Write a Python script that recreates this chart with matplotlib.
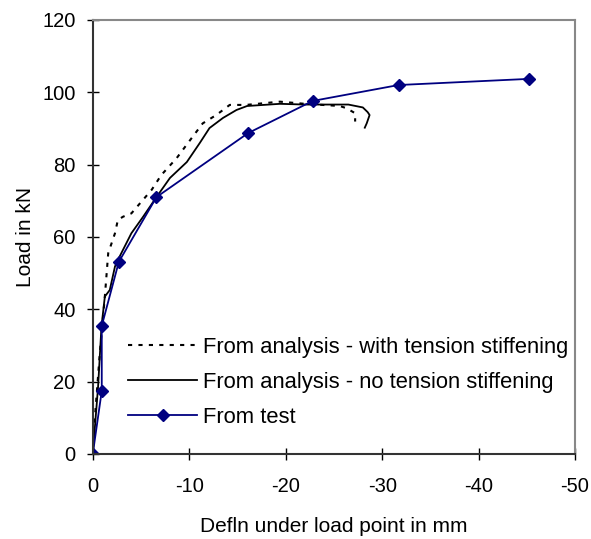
import matplotlib
matplotlib.use("Agg")
from matplotlib import pyplot as plt

# analysis - with tension stiffening (dotted)
with_ts_x = [0, -0.2, -0.73, -1.25, -1.6, -2.3, -2.6, -3.15, -4.0, -4.9, -6.1, -7.1, -8.7,
             -10.1, -11.4, -12.8, -14.2, -15.9, -19.4, -22.0, -25.6, -26.3, -27.2, -27.2]
with_ts_y = [0, 9.4, 27.9, 43.5, 55.5, 61.0, 64.7, 65.6, 66.5, 69.3, 73.0, 77.1, 81.8,
             86.8, 91.4, 93.7, 96.5, 96.5, 97.4, 96.8, 96.2, 95.6, 94.2, 91.9]

# analysis - no tension stiffening (solid)
no_ts_x = [0, -0.55, -0.9, -1.25, -1.76, -2.3, -2.6, -4.0, -5.2, -6.6, -8.0, -9.75, -11.1,
           -12.1, -13.5, -14.9, -16.0, -19.4, -22.0, -26.5, -28.0, -28.5, -28.7, -28.4, -28.2]
no_ts_y = [0, 18.6, 35.2, 43.5, 45.3, 51.8, 53.6, 61.0, 65.5, 71.0, 76.3, 80.7, 86.0,
           90.1, 92.9, 95.1, 96.2, 96.8, 96.6, 96.6, 95.8, 94.5, 93.7, 91.4, 90.2]

# test
test_x = [0, -0.93, -0.93, -2.7, -6.6, -16.1, -22.8, -31.7, -45.2]
test_y = [0, 17.4, 35.4, 53.1, 71.0, 88.7, 97.6, 102.0, 103.7]

xticks = [0, -10, -20, -30, -40, -50]
xticklabels = ["0", "-10", "-20", "-30", "-40", "-50"]
yticks = [0, 20, 40, 60, 80, 100, 120]

plt.rcParams['font.family'] = ['Liberation Sans', 'DejaVu Sans']
plt.rcParams['axes.unicode_minus'] = False

fig = plt.figure(figsize=(5.91, 5.39), dpi=100)
ax = fig.add_axes([0.157, 0.158, 0.816, 0.805])

ax.plot(with_ts_x, with_ts_y, color="black", lw=1.5, ls=(0, (2, 3)),
        label="From analysis - with tension stiffening")
ax.plot(no_ts_x, no_ts_y, color="black", lw=1.3,
        label="From analysis - no tension stiffening")
ax.plot(test_x, test_y, color="#000080", lw=1.3, marker="D", ms=6.5,
        label="From test")

ax.set_xlim(0, -50)
ax.set_ylim(0, 120)
ax.set_xticks(xticks)
ax.set_xticklabels(xticklabels)
ax.set_yticks(yticks)
ax.tick_params(direction="inout", length=9, width=1, labelsize=14.5)
ax.tick_params(axis="y", pad=8)
ax.tick_params(axis="x", pad=12)

for s in ["left", "bottom"]:
    ax.spines[s].set_color("#333333")
    ax.spines[s].set_linewidth(1.5)
for s in ["top", "right"]:
    ax.spines[s].set_color("#888888")
    ax.spines[s].set_linewidth(1.5)

ax.set_xlabel("Defln under load point in mm", fontsize=15, labelpad=15)
ax.set_ylabel("Load in kN", fontsize=15, labelpad=5)

ax.legend(loc="lower left", bbox_to_anchor=(0.055, 0.04), frameon=False,
          fontsize=15.8, handlelength=3.15, handletextpad=0.25, labelspacing=0.64,
          borderaxespad=0)

fig.savefig("out.png", dpi=100)
